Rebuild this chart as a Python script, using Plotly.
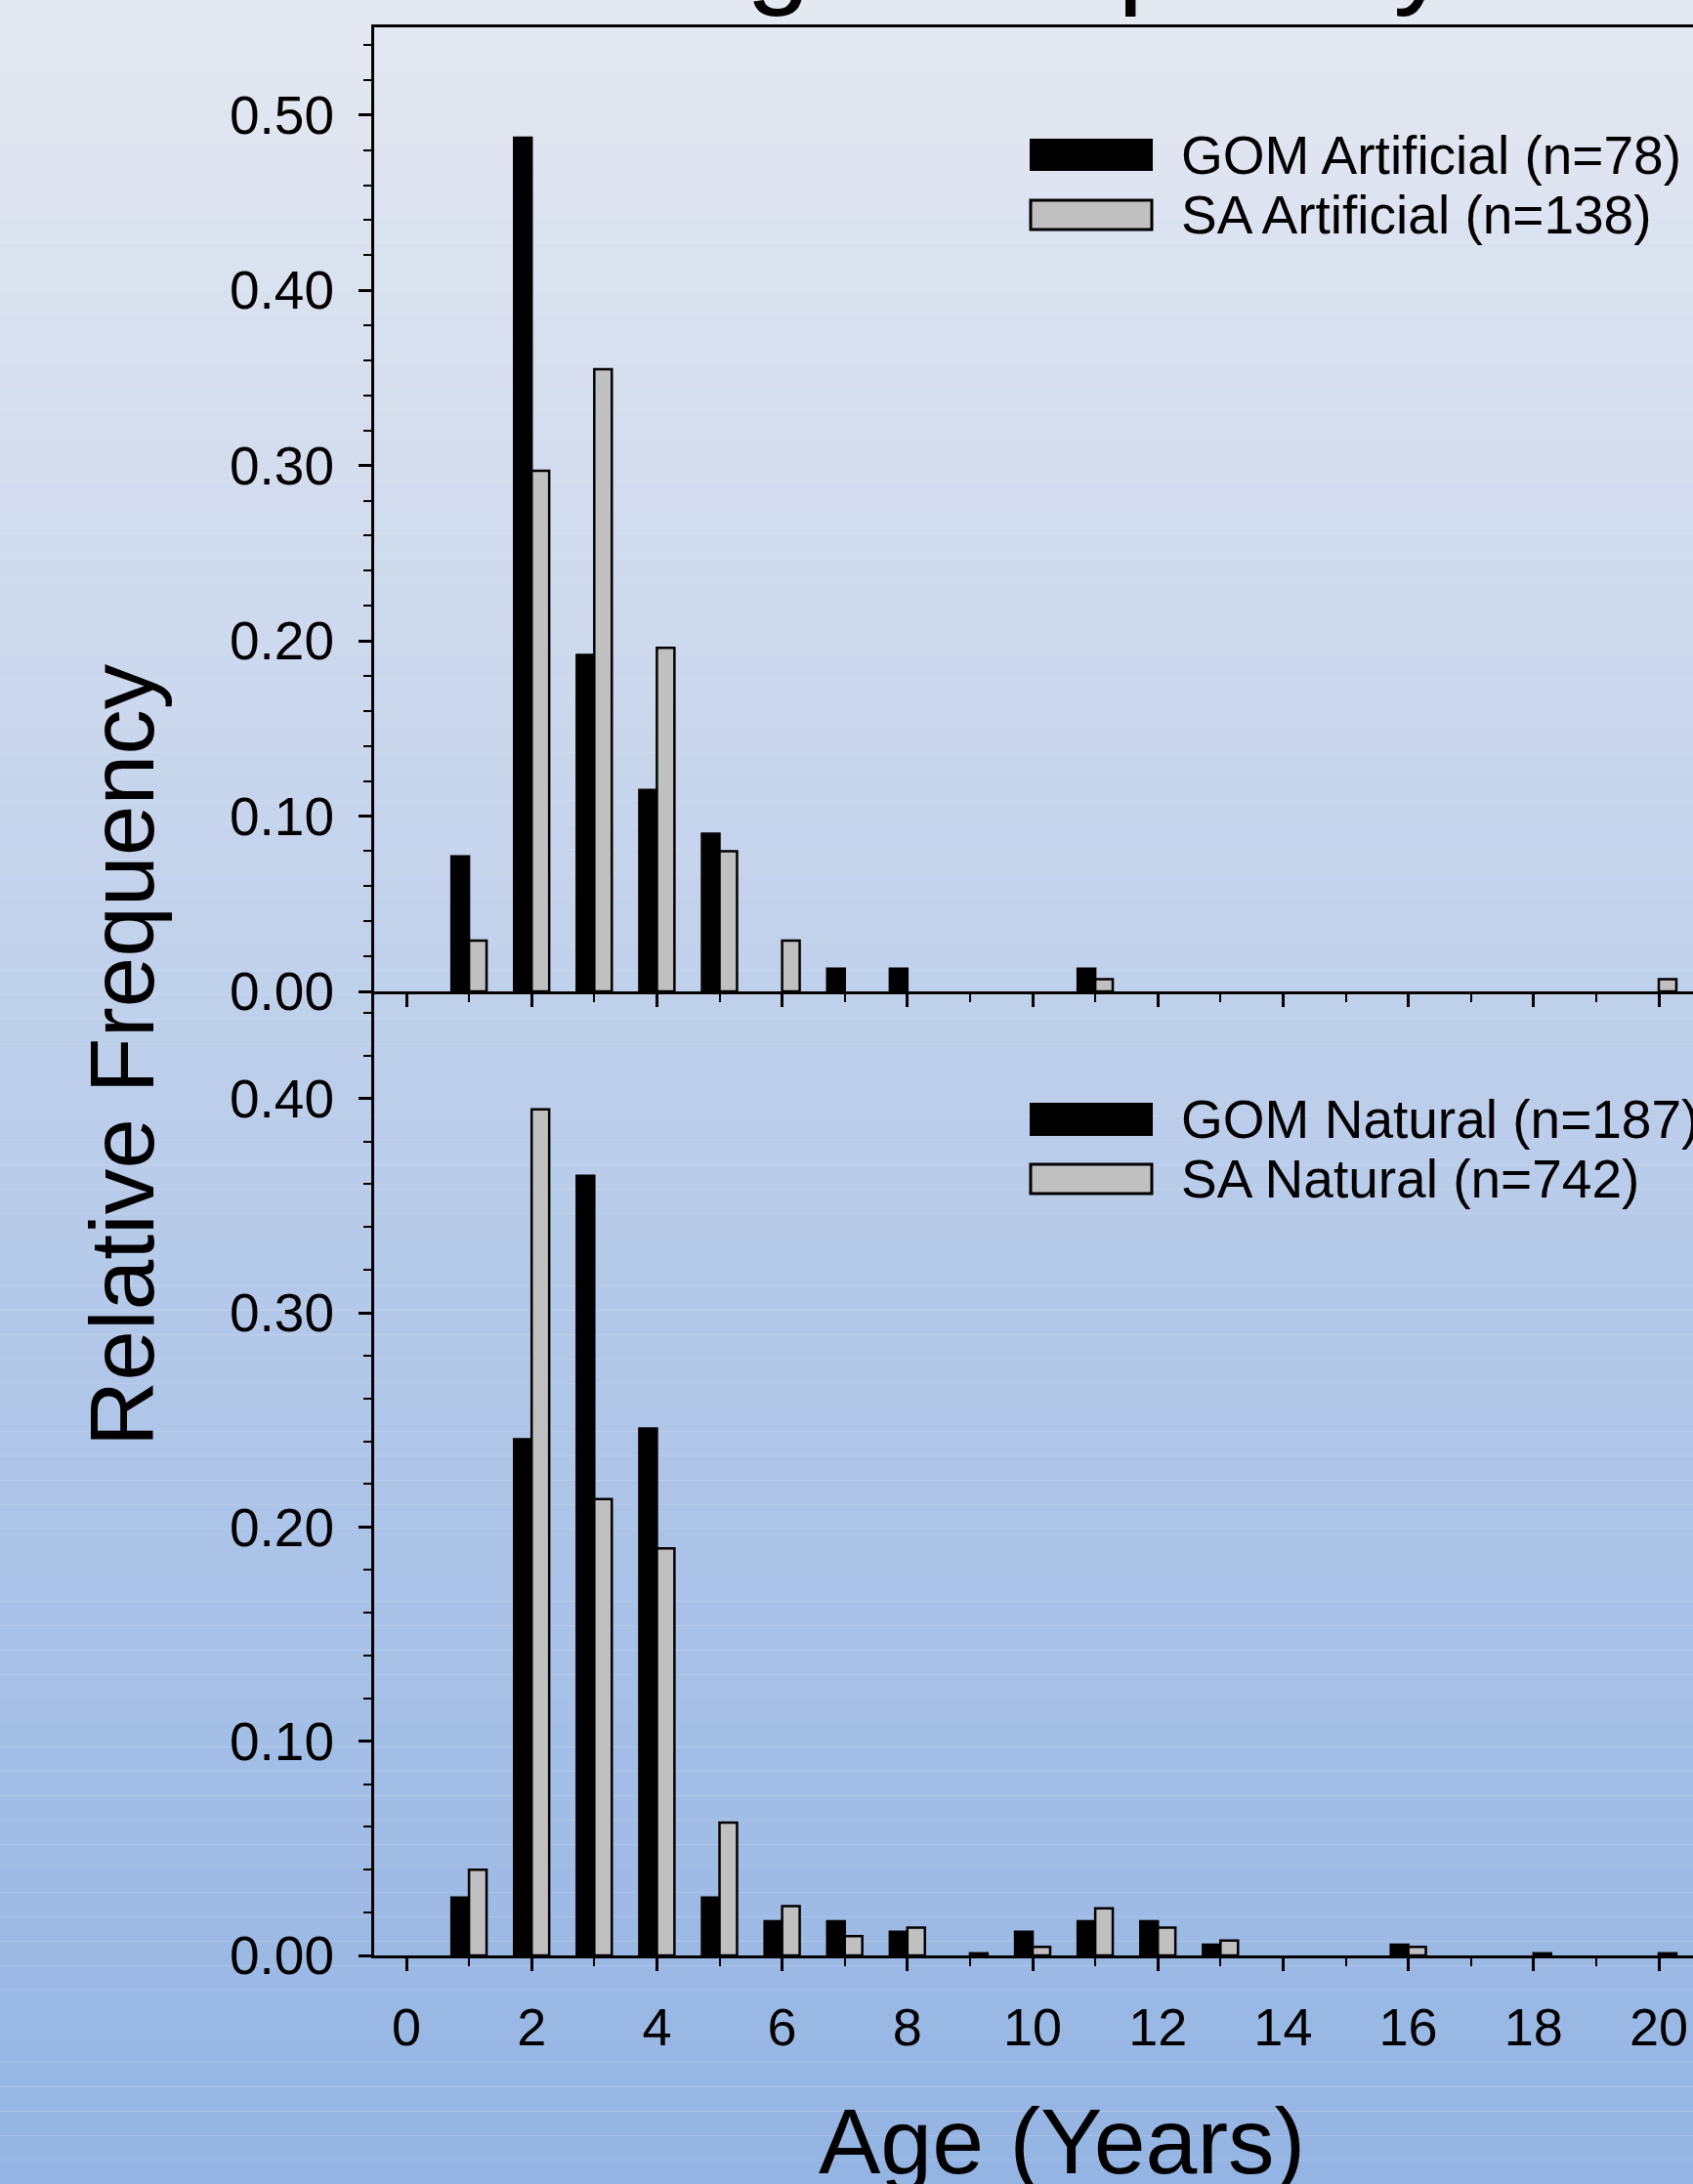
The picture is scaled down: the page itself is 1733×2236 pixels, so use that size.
import plotly.graph_objects as go

# ---------------- data ----------------
ages = list(range(1, 21))

gom_artificial = [0.077, 0.487, 0.192, 0.115, 0.090, None, 0.013, 0.013, None, None,
                  0.013, None, None, None, None, None, None, None, None, None]
sa_artificial = [0.029, 0.297, 0.355, 0.196, 0.080, 0.029, None, None, None, None,
                 0.007, None, None, None, None, None, None, None, None, 0.007]

gom_natural = [0.027, 0.241, 0.364, 0.246, 0.027, 0.016, 0.016, 0.011, None, 0.011,
               0.016, 0.016, 0.005, None, None, 0.005, None, None, None, None]
sa_natural = [0.040, 0.395, 0.213, 0.190, 0.062, 0.023, 0.009, 0.013, 0.001, 0.004,
              0.022, 0.013, 0.007, None, None, 0.004, None, 0.001, None, 0.001]

names_top = ["GOM Artificial (n=78)", "SA Artificial (n=138)"]
names_bot = ["GOM Natural (n=187)", "SA Natural (n=742)"]

y_ticks_top = [0.0, 0.1, 0.2, 0.3, 0.4, 0.5]
y_ticks_bot = [0.0, 0.1, 0.2, 0.3, 0.4]
x_ticks = list(range(0, 21, 2))

title_text = "Age Frequency"
x_title = "Age (Years)"
y_title = "Relative Frequency"

# ---------------- styles ----------------
W, H = 1733, 2236
FONT = "Liberation Sans, Arial, sans-serif"
BLACK = "#000000"
GRAY = "#c0c0c0"
TOP_RGB = (228, 232, 241)
BOT_RGB = (148, 180, 227)


def px(x):
    return x / W


def py(y):
    return 1 - y / H


fig = go.Figure()

for vals, name, color, axes in [
    (gom_artificial, names_top[0], BLACK, ("x", "y")),
    (sa_artificial, names_top[1], GRAY, ("x", "y")),
    (gom_natural, names_bot[0], BLACK, ("x2", "y2")),
    (sa_natural, names_bot[1], GRAY, ("x2", "y2")),
]:
    fig.add_trace(go.Bar(
        x=ages, y=vals, name=name, xaxis=axes[0], yaxis=axes[1],
        marker=dict(color=color, line=dict(color=BLACK, width=2.5)),
        showlegend=False,
    ))

x_left, x_right = -0.515, 20.546
dom_x = [px(383), 1.0]

common_x = dict(
    range=[x_left, x_right], domain=dom_x, showgrid=False, zeroline=False,
    showline=True, linecolor=BLACK, linewidth=3,
    ticks="outside", ticklen=13, tickwidth=2.5, tickcolor=BLACK,
    tickvals=x_ticks,
    minor=dict(dtick=1, tick0=0, ticks="outside", ticklen=8, tickwidth=2, tickcolor=BLACK),
    tickfont=dict(family=FONT, size=54, color=BLACK),
)
common_y = dict(
    showgrid=False, zeroline=False,
    showline=True, linecolor=BLACK, linewidth=3,
    ticks="outside", ticklen=13, tickwidth=2.5, tickcolor=BLACK,
    tickformat=".2f",
    minor=dict(dtick=0.02, tick0=0, ticks="outside", ticklen=8, tickwidth=2, tickcolor=BLACK),
    tickfont=dict(family=FONT, size=55, color=BLACK),
    ticklabelstandoff=14,
)

fig.update_layout(
    width=W, height=H,
    margin=dict(l=0, r=0, t=0, b=0, autoexpand=False),
    paper_bgcolor="rgb(%d,%d,%d)" % TOP_RGB,
    plot_bgcolor="rgba(0,0,0,0)",
    barmode="group", bargap=0.44, bargroupgap=0,
    showlegend=False,
    xaxis=dict(common_x, anchor="y", mirror=True, showticklabels=False),
    yaxis=dict(common_y, anchor="x", domain=[py(1015), py(28)], range=[0, 0.55],
               tickvals=y_ticks_top),
    xaxis2=dict(common_x, anchor="y2", showticklabels=True, ticklabelstandoff=11),
    yaxis2=dict(common_y, anchor="x2", domain=[py(2002), py(1015)], range=[0, 0.45],
                tickvals=y_ticks_bot),
)

# background gradient (banded)
shapes = []
n_bands = 90
for i in range(n_bands):
    t = i / (n_bands - 1)
    c = tuple(round(TOP_RGB[k] + (BOT_RGB[k] - TOP_RGB[k]) * t) for k in range(3))
    shapes.append(dict(type="rect", xref="paper", yref="paper", layer="below",
                       x0=0, x1=1, y0=1 - (i + 1) / n_bands, y1=1 - i / n_bands,
                       fillcolor="rgb(%d,%d,%d)" % c, line=dict(width=0)))

# legend swatches
legend_rows = [
    (names_top[0], BLACK, 143, 174, 2),
    (names_top[1], GRAY, 205, 235, 3),
    (names_bot[0], BLACK, 1130, 1162, 2),
    (names_bot[1], GRAY, 1192, 1222, 3),
]
annotations = []
for name, color, y0, y1, lw in legend_rows:
    shapes.append(dict(type="rect", xref="paper", yref="paper", layer="above",
                       x0=px(1055), x1=px(1179), y0=py(y1), y1=py(y0),
                       fillcolor=color, line=dict(color=BLACK, width=lw)))
    annotations.append(dict(text=name, xref="paper", yref="paper",
                            x=px(1207), y=py((y0 + y1) / 2), xanchor="left", yanchor="middle",
                            showarrow=False, font=dict(family=FONT, size=55, color=BLACK)))

annotations += [
    dict(text=title_text, xref="paper", yref="paper", x=px(1085), y=py(-49),
         xanchor="center", yanchor="middle", showarrow=False,
         font=dict(family=FONT, size=118, color=BLACK)),
    dict(text=x_title, xref="paper", yref="paper", x=px(1087), y=py(2192),
         xanchor="center", yanchor="middle", showarrow=False,
         font=dict(family=FONT, size=95, color=BLACK)),
    dict(text=y_title, xref="paper", yref="paper", x=px(125), y=py(1080),
         xanchor="center", yanchor="middle", showarrow=False, textangle=-90,
         font=dict(family=FONT, size=93, color=BLACK)),
]

fig.update_layout(shapes=shapes, annotations=annotations)

fig.write_html(
    "out.html",
    config={"displayModeBar": False},
    post_script="document.body.style.margin='0';document.body.style.padding='0';"
                "document.documentElement.style.overflow='hidden';",
)
